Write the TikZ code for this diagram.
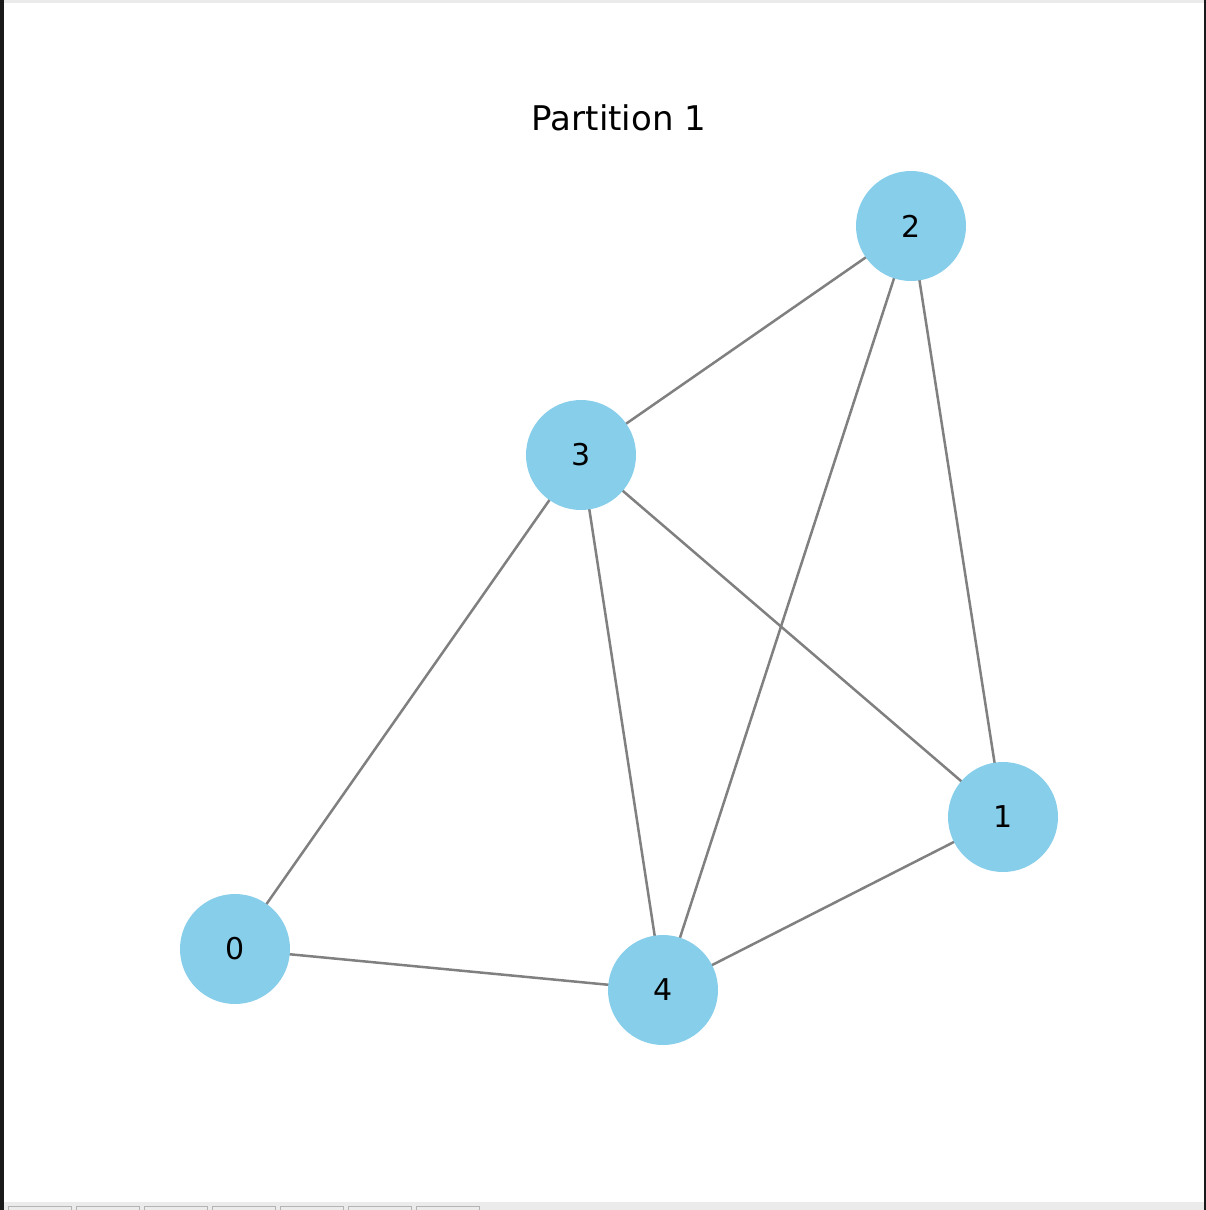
\documentclass[tikz,border=0pt]{standalone}
\usepackage{fontspec}
\setmainfont{DejaVu Sans}
\definecolor{skyb}{HTML}{87CEEB}
\definecolor{edgegray}{HTML}{808080}
\definecolor{darkframe}{HTML}{1A1A1A}
\definecolor{barbg}{HTML}{EBEBEB}
\definecolor{tabline}{HTML}{B4B4B4}
\begin{document}
\begin{tikzpicture}[x=1pt,y=-1pt,
  vertex/.style={circle,fill=skyb,minimum size=110pt,inner sep=0pt,font=\fontsize{30}{34}\selectfont},
  link/.style={draw=edgegray,line width=2.5pt},
  tab/.style={draw=tabline,line width=1pt}]
\useasboundingbox (0,0) rectangle (1206,1210);
\fill[white] (0,0) rectangle (1206,1210);
% screenshot frame
\fill[darkframe] (0,0) rectangle (4,1210);
\fill[darkframe] (1204,0) rectangle (1206,1210);
\fill[barbg] (4,0) rectangle (1204,3);
\fill[barbg] (4,1202) rectangle (1204,1210);
\foreach \i in {0,...,6}{
  \draw[tab] ({8+68*\i},1211) -- ({8+68*\i},1206.5) -- ({71+68*\i},1206.5) -- ({71+68*\i},1211);
}
% title
\node[font=\fontsize{34}{40}\selectfont] (title) at (619,118) {Partition 1};
% nodes (coordinates first, edges, then discs on top)
\coordinate (c2) at (911,226);
\coordinate (c3) at (581,455);
\coordinate (c1) at (1003,817);
\coordinate (c0) at (235,949);
\coordinate (c4) at (663,990);
\path[link] (c2) -- (c3);
\path[link] (c2) -- (c4);
\path[link] (c2) -- (c1);
\path[link] (c3) -- (c0);
\path[link] (c3) -- (c4);
\path[link] (c3) -- (c1);
\path[link] (c0) -- (c4);
\path[link] (c4) -- (c1);
\node[vertex] (n2) at (c2) {2};
\node[vertex] (n3) at (c3) {3};
\node[vertex] (n1) at (c1) {1};
\node[vertex] (n0) at (c0) {0};
\node[vertex] (n4) at (c4) {4};
\end{tikzpicture}
\end{document}
